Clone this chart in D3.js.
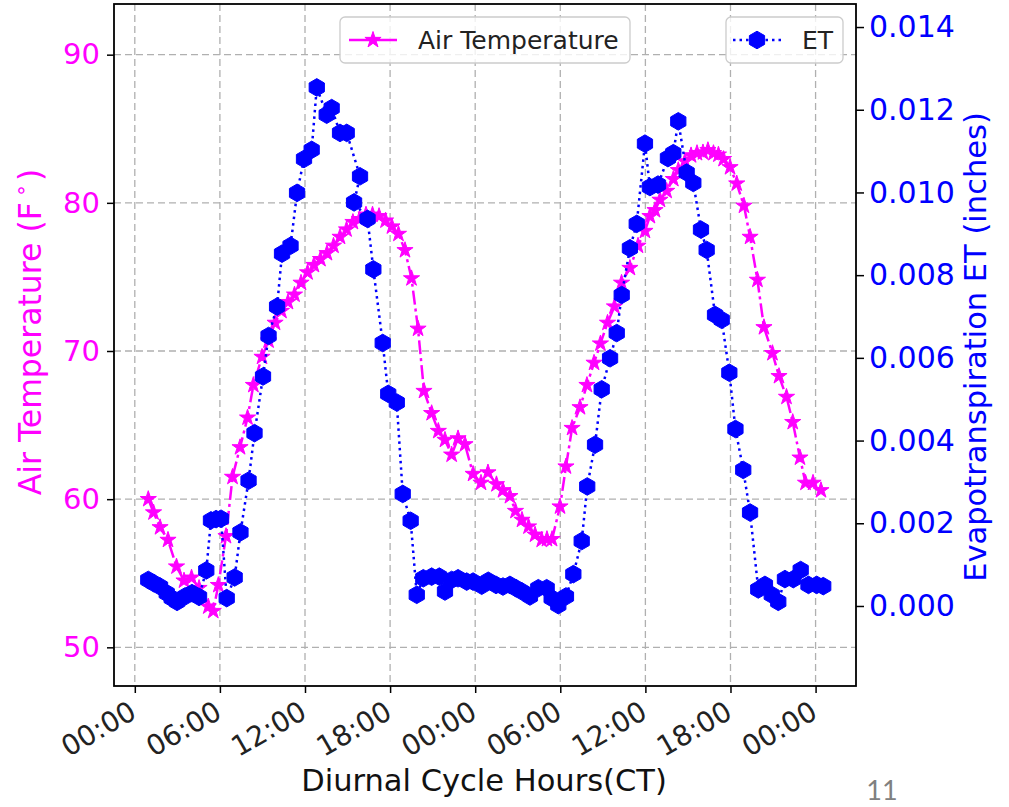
<!DOCTYPE html>
<html>
<head>
<meta charset="utf-8">
<script src="https://cdn.jsdelivr.net/npm/d3@7"></script>
<style>
  html, body { margin: 0; padding: 0; background: #fff; }
  svg { display: block; font-family: "DejaVu Sans", sans-serif; }
</style>
</head>
<body>
<svg id="chart" width="1009" height="807"></svg>
<script>
// ---- data (hours since first midnight) ----
const tempHours = [0.95,1.32,1.78,2.34,2.94,3.47,4.00,4.53,5.18,5.53,5.89,6.43,6.89,7.42,7.95,8.36,8.97,9.43,9.89,10.34,10.80,11.26,11.72,12.18,12.63,13.09,13.55,14.01,14.47,14.93,15.38,15.84,16.30,16.76,17.22,17.68,18.13,18.59,19.05,19.51,19.97,20.39,20.93,21.40,21.87,22.34,22.79,23.28,23.85,24.41,24.90,25.50,25.96,26.45,26.84,27.30,27.76,28.22,28.69,29.06,29.42,29.98,30.40,30.83,31.39,31.88,32.38,32.83,33.33,33.82,34.32,34.91,35.48,35.97,36.32,36.68,37.03,37.50,37.97,38.32,38.79,39.22,39.64,40.06,40.41,40.80,41.15,41.51,41.97,42.44,42.95,43.38,43.90,44.36,44.96,45.42,45.95,46.39,46.90,47.29,47.82,48.38];
const tempF = [60.0,59.1,58.1,57.25,55.45,54.5,54.7,54.0,52.75,52.45,54.2,57.5,61.5,63.5,65.5,67.7,69.6,70.7,71.9,72.7,73.3,73.8,74.6,75.3,75.8,76.2,76.6,77.1,77.7,78.2,78.7,78.9,79.2,79.2,79.1,78.8,78.4,77.9,76.8,74.9,71.5,67.3,65.8,64.6,64.0,63.0,64.1,63.7,61.7,61.1,61.8,61.0,60.6,60.2,59.2,58.6,58.15,57.6,57.25,57.3,57.3,59.5,62.2,64.8,66.2,67.7,69.2,70.5,71.9,73.0,74.6,75.6,77.1,78.1,79.1,79.5,80.2,80.8,81.6,82.2,82.8,83.2,83.35,83.4,83.55,83.35,83.25,82.95,82.4,81.3,79.8,77.7,74.8,71.6,69.85,68.3,66.9,65.2,62.8,61.1,61.1,60.6];

const etHours = [0.95,1.35,1.78,2.25,2.60,2.98,3.54,4.03,4.53,5.04,5.37,5.73,6.08,6.48,7.04,7.45,8.02,8.44,9.04,9.43,10.03,10.38,10.98,11.44,11.93,12.47,12.83,13.53,13.88,14.47,14.94,15.88,15.46,16.41,16.82,17.48,17.87,18.47,18.89,19.45,19.88,20.34,20.93,21.47,21.87,22.34,22.79,23.40,23.85,24.46,24.92,25.47,25.96,26.45,26.88,27.30,27.86,28.45,29.04,29.39,29.86,30.40,30.92,31.51,31.90,32.45,32.92,33.51,33.98,34.33,34.91,35.39,35.97,36.32,36.89,37.59,37.97,38.32,38.91,39.38,39.92,40.32,40.91,41.38,41.92,42.35,42.90,43.38,43.96,44.43,44.91,45.37,45.84,46.43,46.95,47.50,48.08,48.54];
const etInches = [0.00063,0.00055,0.00047,0.00031,0.00019,0.00010,0.00023,0.00031,0.00022,0.00086,0.00207,0.00210,0.00211,0.00019,0.00069,0.00178,0.00303,0.00418,0.00555,0.00653,0.00724,0.00852,0.00871,0.00999,0.01081,0.01103,0.01254,0.01188,0.01204,0.01144,0.01144,0.01039,0.00976,0.00936,0.00814,0.00636,0.00513,0.00492,0.00271,0.00206,0.00027,0.00067,0.00071,0.00071,0.00035,0.00063,0.00067,0.00059,0.00059,0.00049,0.00061,0.00051,0.00047,0.00051,0.00043,0.00035,0.00023,0.00043,0.00043,0.00019,0.00002,0.00023,0.00077,0.00157,0.00289,0.00390,0.00524,0.00599,0.00660,0.00752,0.00865,0.00924,0.01118,0.01013,0.01019,0.01083,0.01095,0.01172,0.01048,0.01023,0.00910,0.00861,0.00704,0.00692,0.00564,0.00428,0.00329,0.00226,0.00040,0.00051,0.00027,0.00010,0.00065,0.00065,0.00087,0.00051,0.00051,0.00048];

const xTickHours = [0,6,12,18,24,30,36,42,48];
const leftTicks = [50,60,70,80,90];
const rightTicks = [0,0.002,0.004,0.006,0.008,0.010,0.012,0.014];
const xDomainHours = [-1.467, 50.85];
const leftDomain = [47.39, 93.42];
const rightDomain = [-0.001935, 0.014557];

const seriesNames = ["Air Temperature", "ET"];
const xTitle = "Diurnal Cycle Hours(CT)";
const rightTitle = "Evapotranspiration ET (inches)";
const pageNumber = "11";

// ---- setup ----
const base = new Date(2020, 0, 1, 0, 0, 0);
const toDate = h => new Date(base.getTime() + h * 3600 * 1000);

const M = {left: 114, right: 856, top: 4, bottom: 686};
const PINK = "#ff00ff", BLUE = "#0000ff";

const svg = d3.select("#chart");
svg.append("rect").attr("width", 1009).attr("height", 807).attr("fill", "#fff");

const x = d3.scaleTime().domain(xDomainHours.map(toDate)).range([M.left, M.right]);
const yL = d3.scaleLinear().domain(leftDomain).range([M.bottom, M.top]);
const yR = d3.scaleLinear().domain(rightDomain).range([M.bottom, M.top]);

const fmt = d3.timeFormat("%H:%M");

// grid
const grid = svg.append("g");
grid.selectAll("line.v").data(xTickHours).join("line")
  .attr("x1", d => x(toDate(d))).attr("x2", d => x(toDate(d)))
  .attr("y1", M.top).attr("y2", M.bottom)
  .attr("stroke", "#b0b0b0").attr("stroke-width", 1.3).attr("stroke-dasharray", "7,4");
grid.selectAll("line.h").data(leftTicks).join("line")
  .attr("x1", M.left).attr("x2", M.right)
  .attr("y1", d => yL(d)).attr("y2", d => yL(d))
  .attr("stroke", "#b0b0b0").attr("stroke-width", 1.3).attr("stroke-dasharray", "7,4");

// marker paths
function starPath(R) {
  const r = R * 0.381966; const pts = [];
  for (let i = 0; i < 10; i++) {
    const rad = i % 2 === 0 ? R : r;
    const a = -Math.PI / 2 + i * Math.PI / 5;
    pts.push([rad * Math.cos(a), rad * Math.sin(a)]);
  }
  return "M" + pts.map(p => p[0].toFixed(2) + "," + p[1].toFixed(2)).join("L") + "Z";
}
function hexPath(R) {
  const pts = [];
  for (let i = 0; i < 6; i++) {
    const a = -Math.PI / 2 + i * Math.PI / 3;
    pts.push([R * Math.cos(a), R * Math.sin(a)]);
  }
  return "M" + pts.map(p => p[0].toFixed(2) + "," + p[1].toFixed(2)).join("L") + "Z";
}
const STAR = starPath(8.5), HEX = hexPath(8.8);

const tData = tempHours.map((h, i) => ({t: toDate(h), v: tempF[i]}));
const eData = etHours.map((h, i) => ({t: toDate(h), v: etInches[i]}));

const plot = svg.append("g");
plot.append("path").datum(tData)
  .attr("d", d3.line().x(d => x(d.t)).y(d => yL(d.v)))
  .attr("fill", "none").attr("stroke", PINK).attr("stroke-width", 2.5)
  .attr("stroke-dasharray", "14,4,3,4");
plot.selectAll("path.star").data(tData).join("path")
  .attr("d", STAR).attr("transform", d => `translate(${x(d.t)},${yL(d.v)})`)
  .attr("fill", PINK).attr("stroke", PINK).attr("stroke-width", 1);

// legend 1
const lg1 = svg.append("g");
lg1.append("rect").attr("x", 340).attr("y", 17).attr("width", 290).attr("height", 46).attr("rx", 5)
  .attr("fill", "#fff").attr("fill-opacity", 0.8).attr("stroke", "#cccccc").attr("stroke-width", 1.3);
lg1.append("line").attr("x1", 349).attr("x2", 397).attr("y1", 40).attr("y2", 40)
  .attr("stroke", PINK).attr("stroke-width", 2.5);
lg1.append("path").attr("d", STAR).attr("transform", "translate(373,40)").attr("fill", PINK).attr("stroke", PINK);
lg1.append("text").attr("x", 418).attr("y", 49).attr("font-size", 25).attr("fill", "#222").text(seriesNames[0]);

// ET series (twin axes on top)
plot.append("path").datum(eData)
  .attr("d", d3.line().x(d => x(d.t)).y(d => yR(d.v)))
  .attr("fill", "none").attr("stroke", BLUE).attr("stroke-width", 2.5)
  .attr("stroke-dasharray", "2.5,4");
plot.selectAll("path.hex").data(eData).join("path")
  .attr("d", HEX).attr("transform", d => `translate(${x(d.t)},${yR(d.v)})`)
  .attr("fill", BLUE).attr("stroke", BLUE).attr("stroke-width", 1);

// legend 2
const lg2 = svg.append("g");
lg2.append("rect").attr("x", 726).attr("y", 17).attr("width", 117).attr("height", 46).attr("rx", 5)
  .attr("fill", "#fff").attr("fill-opacity", 0.8).attr("stroke", "#cccccc").attr("stroke-width", 1.3);
lg2.append("line").attr("x1", 733).attr("x2", 782).attr("y1", 40).attr("y2", 40)
  .attr("stroke", BLUE).attr("stroke-width", 2.5).attr("stroke-dasharray", "2.5,4");
lg2.append("path").attr("d", HEX).attr("transform", "translate(757,40)").attr("fill", BLUE).attr("stroke", BLUE);
lg2.append("text").attr("x", 802).attr("y", 49).attr("font-size", 25).attr("fill", "#222").text(seriesNames[1]);

// frame
svg.append("rect").attr("x", M.left).attr("y", M.top).attr("width", M.right - M.left).attr("height", M.bottom - M.top)
  .attr("fill", "none").attr("stroke", "#000").attr("stroke-width", 1.8);

// axes
const xAxis = d3.axisBottom(x).tickValues(xTickHours.map(toDate)).tickFormat(fmt).tickSize(7).tickPadding(4);
const gx = svg.append("g").attr("transform", `translate(0,${M.bottom})`).call(xAxis);
gx.select(".domain").remove();
gx.selectAll(".tick line").attr("stroke", "#000").attr("stroke-width", 1.5);
gx.selectAll(".tick text")
  .attr("font-size", 28).attr("fill", "#222").attr("font-family", "DejaVu Sans")
  .attr("text-anchor", "end").attr("dy", null).attr("y", 0).attr("x", 0)
  .attr("transform", "translate(3,31) rotate(-30)");

const yAxisL = d3.axisLeft(yL).tickValues(leftTicks).tickFormat(d3.format("d")).tickSize(7).tickPadding(7);
const gl = svg.append("g").attr("transform", `translate(${M.left},0)`).call(yAxisL);
gl.select(".domain").remove();
gl.selectAll(".tick line").attr("stroke", "#000").attr("stroke-width", 1.5);
gl.selectAll(".tick text").attr("font-size", 29).attr("fill", PINK).attr("font-family", "DejaVu Sans");

const yAxisR = d3.axisRight(yR).tickValues(rightTicks).tickFormat(d3.format(".3f")).tickSize(8).tickPadding(5);
const gr = svg.append("g").attr("transform", `translate(${M.right},0)`).call(yAxisR);
gr.select(".domain").remove();
gr.selectAll(".tick line").attr("stroke", "#000").attr("stroke-width", 1.5);
gr.selectAll(".tick text").attr("font-size", 30).attr("fill", BLUE).attr("font-family", "DejaVu Sans");

// titles
svg.append("text").attr("x", (M.left + M.right) / 2 - 1).attr("y", 791).attr("text-anchor", "middle")
  .attr("font-size", 30.5).attr("fill", "#111").text(xTitle);

const lt = svg.append("text").attr("text-anchor", "middle").attr("font-size", 31.5).attr("fill", PINK)
  .attr("transform", "translate(41,332) rotate(-90)");
lt.append("tspan").text("Air Temperature (F");
lt.append("tspan").attr("font-size", 21).attr("dx", 5).attr("dy", -13).text("\u2218");
lt.append("tspan").attr("dx", 3).attr("dy", 13).text(")");

svg.append("text").attr("text-anchor", "middle").attr("font-size", 30.5).attr("fill", BLUE)
  .attr("transform", "translate(986,347) rotate(-90)").text(rightTitle);

svg.append("text").attr("x", 882).attr("y", 800).attr("text-anchor", "middle")
  .attr("font-size", 27).attr("fill", "#808080").attr("font-family", "Lato, sans-serif").text(pageNumber);
</script>
</body>
</html>
